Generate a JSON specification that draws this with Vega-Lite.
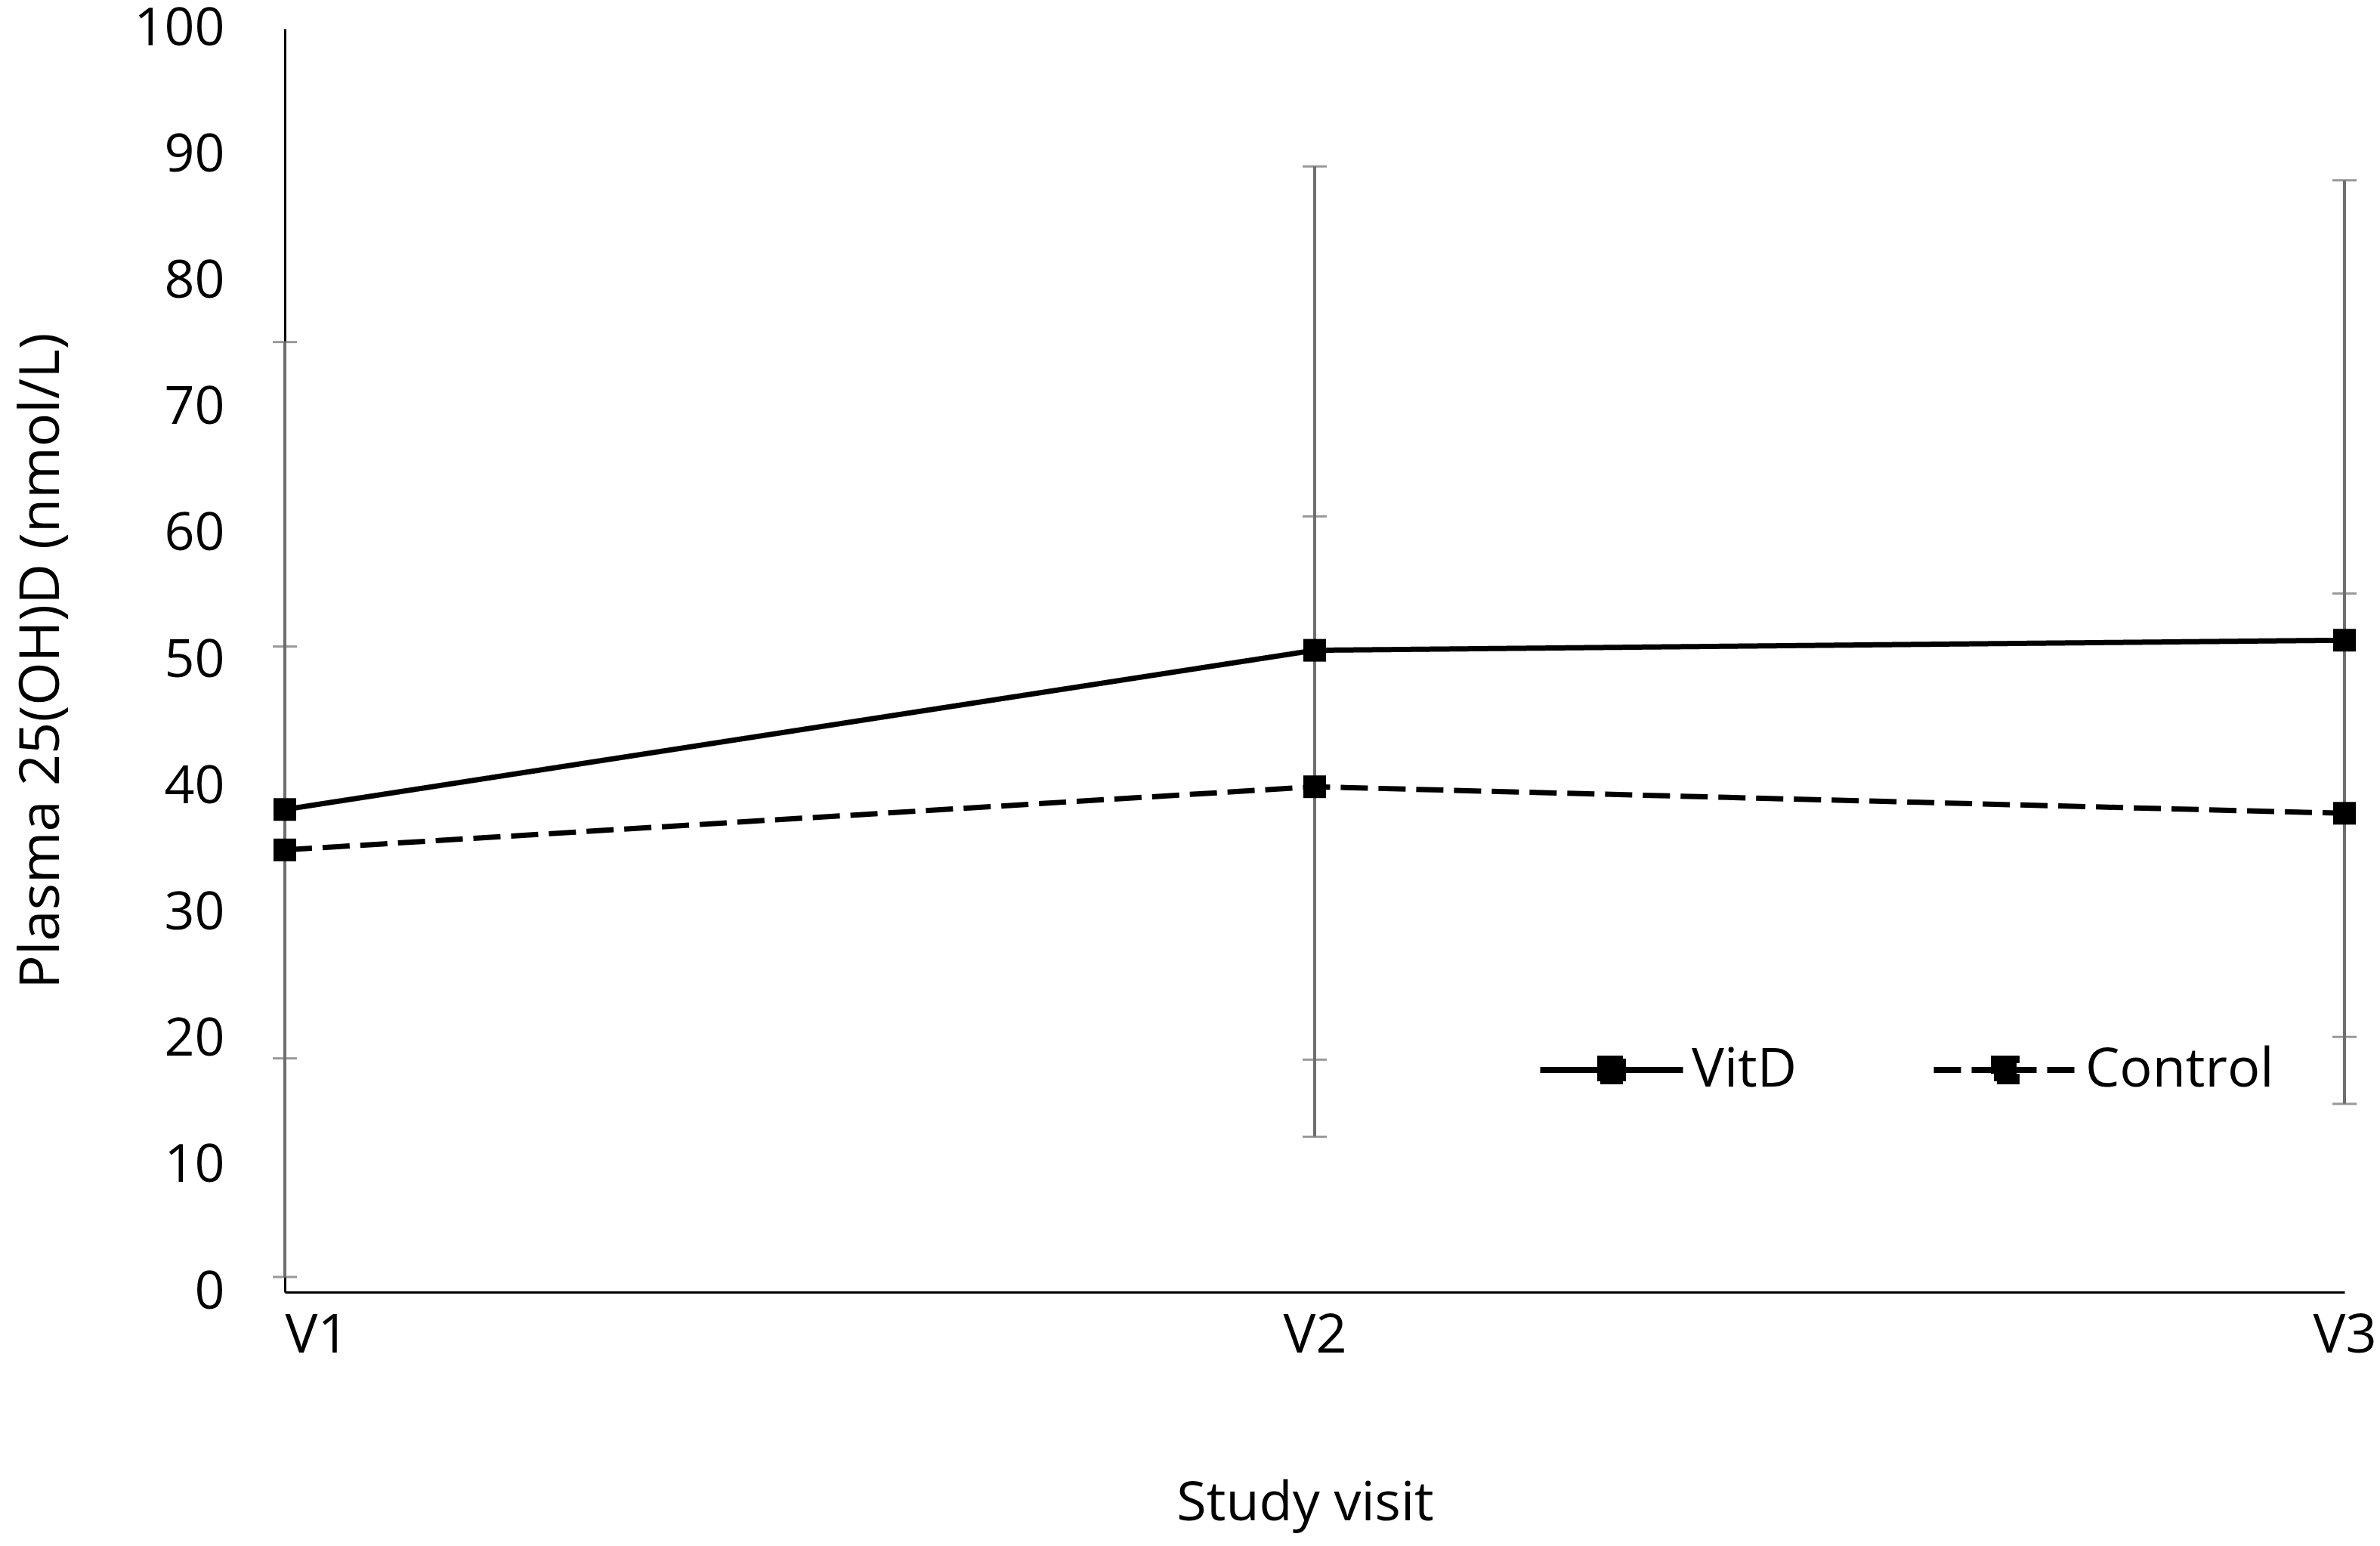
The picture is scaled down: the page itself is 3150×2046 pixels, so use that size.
{
  "$schema": "https://vega.github.io/schema/vega-lite/v6.json",
  "autosize": "none",
  "width": 2726,
  "height": 1672,
  "padding": {"left": 377, "top": 38, "right": 47, "bottom": 336},
  "background": "white",
  "config": {
    "view": {"stroke": null},
    "font": "Open Sans",
    "axis": {"labelFont": "Open Sans", "titleFont": "Open Sans", "labelColor": "black", "titleColor": "black", "titleFontWeight": "normal", "grid": false, "ticks": false, "domainColor": "black", "domainWidth": 3}
  },
  "data": {
    "values": [
      {"visit": "V1", "group": "VitD", "mean": 38.2, "lo": 1.2, "hi": 75.2},
      {"visit": "V1", "group": "Control", "mean": 35.0, "lo": 18.5, "hi": 51.1},
      {"visit": "V2", "group": "VitD", "mean": 50.8, "lo": 12.3, "hi": 89.1},
      {"visit": "V2", "group": "Control", "mean": 40.0, "lo": 18.4, "hi": 61.4},
      {"visit": "V3", "group": "VitD", "mean": 51.6, "lo": 14.9, "hi": 88.0},
      {"visit": "V3", "group": "Control", "mean": 37.9, "lo": 20.2, "hi": 55.3}
    ]
  },
  "encoding": {
    "x": {
      "field": "visit", "type": "ordinal",
      "scale": {"type": "point", "padding": 0, "domain": ["V1", "V2", "V3"]},
      "axis": {
        "title": "Study visit", "labelAngle": 0, "labelFontSize": 72, "titleFontSize": 72,
        "labelPadding": 22,
        "labelAlign": {"condition": {"test": "datum.value === 'V1'", "value": "left"}, "value": "center"},
        "titleX": 1350, "titleY": 279, "titleBaseline": "middle", "titleAlign": "center"
      }
    }
  },
  "layer": [
    {
      "mark": {"type": "rule", "color": "#6e6e6e", "strokeWidth": 4},
      "encoding": {
        "y": {"field": "lo", "type": "quantitative", "scale": {"domain": [0, 100], "nice": false},
          "axis": {
            "title": "Plasma 25(OH)D (nmol/L)", "values": [0, 10, 20, 30, 40, 50, 60, 70, 80, 90, 100],
            "labelFontSize": 70, "titleFontSize": 74, "labelPadding": 80,
            "titleX": -322, "titleY": 836, "titleAngle": -90, "titleAlign": "center", "titleBaseline": "middle"
          }},
        "y2": {"field": "hi"}
      }
    },
    {
      "mark": {"type": "tick", "color": "#6e6e6e", "size": 32, "thickness": 3, "orient": "horizontal"},
      "encoding": {"y": {"field": "lo", "type": "quantitative"}}
    },
    {
      "mark": {"type": "tick", "color": "#6e6e6e", "size": 32, "thickness": 3, "orient": "horizontal"},
      "encoding": {"y": {"field": "hi", "type": "quantitative"}}
    },
    {
      "mark": {"type": "line", "color": "black", "strokeWidth": 7, "strokeCap": "butt"},
      "encoding": {
        "y": {"field": "mean", "type": "quantitative"},
        "strokeDash": {
          "field": "group", "type": "nominal",
          "scale": {"domain": ["VitD", "Control"], "range": [[1, 0], [36, 14]]},
          "legend": {
            "title": null, "orient": "none", "direction": "horizontal",
            "legendX": 1720, "legendY": 1342,
            "symbolType": "M-6.3,0H6.3M-1,-1H1V1H-1Z",
            "symbolSize": 900, "symbolStrokeWidth": 8,
            "symbolStrokeColor": "black", "symbolFillColor": "black",
            "labelFont": "Open Sans", "labelFontSize": 72, "labelColor": "black",
            "labelOffset": 70, "columnPadding": 164, "labelLimit": 0
          }
        }
      }
    },
    {
      "mark": {"type": "point", "shape": "square", "filled": true, "color": "black", "size": 900, "opacity": 1},
      "encoding": {"y": {"field": "mean", "type": "quantitative"}}
    }
  ]
}
